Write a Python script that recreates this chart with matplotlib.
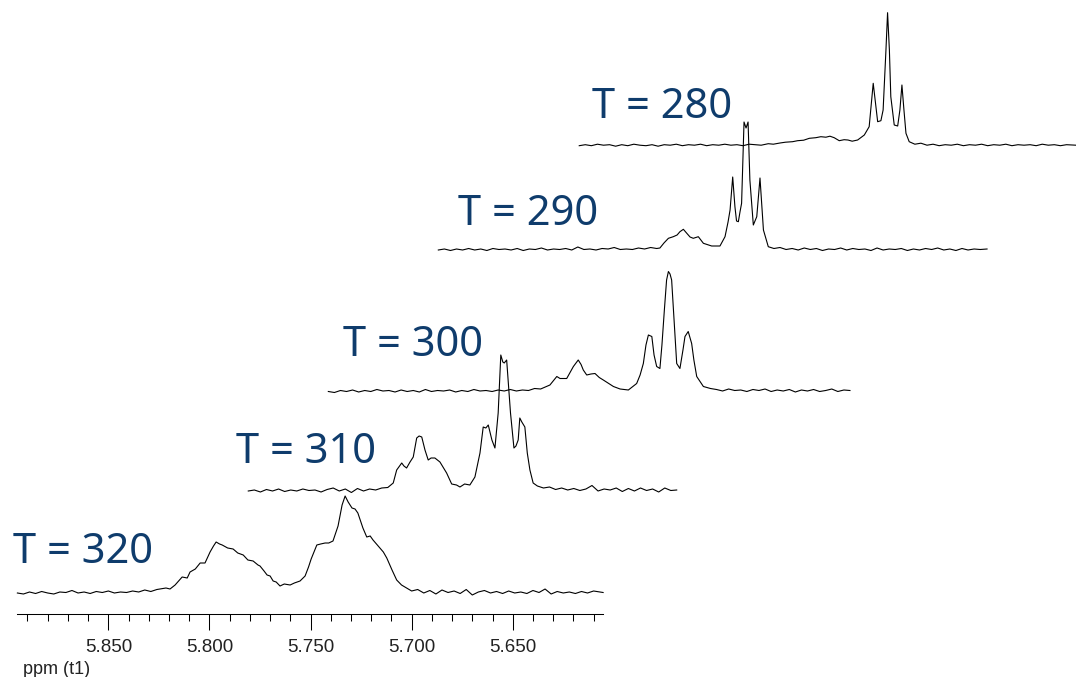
#!/usr/bin/env python3
"""
Stacked 1H NMR spectra at several temperatures (traced from a figure).
"""

import numpy as np
import matplotlib
matplotlib.use("Agg")
import matplotlib.pyplot as plt

# temperatures, bottom to top
temps = [320, 310, 300, 290, 280]

# traced spectra: (ppm, intensity above baseline)
trace_320 = [
    (5.895, 0), (5.892, -1), (5.889, 1), (5.886, -0.5), (5.883, 1.5), (5.880, 0),
    (5.877, -1), (5.874, 1), (5.871, 0.5), (5.868, 2.5), (5.865, 0), (5.862, 1),
    (5.859, -0.5), (5.856, 1.5), (5.853, 0.5), (5.850, 2), (5.847, 0), (5.844, 1),
    (5.841, 0.5), (5.838, 2), (5.835, 1), (5.832, 3), (5.829, 1.5), (5.826, 3.5),
    (5.8215, 5), (5.8195, 4), (5.817, 8), (5.8135, 16), (5.811, 15), (5.8096, 21),
    (5.807, 24), (5.8046, 30), (5.8022, 30), (5.7997, 41), (5.798, 47), (5.7967, 51),
    (5.795, 49), (5.7937, 48), (5.791, 45), (5.7883, 44), (5.786, 40), (5.7833, 38),
    (5.781, 33), (5.7784, 32), (5.776, 28), (5.775, 27), (5.773, 22), (5.7715, 18),
    (5.770, 17), (5.7685, 12), (5.767, 11), (5.7651, 7), (5.763, 9), (5.7601, 8),
    (5.758, 10), (5.7552, 12), (5.7527, 17), (5.751, 26), (5.7497, 34), (5.7469, 48),
    (5.745, 49), (5.7428, 50), (5.741, 50), (5.7389, 52), (5.7364, 67), (5.7344, 88),
    (5.7329, 97), (5.7314, 91), (5.7295, 85), (5.728, 84), (5.7266, 80), (5.7241, 65),
    (5.7222, 56), (5.7205, 57), (5.7191, 53), (5.7157, 45), (5.714, 41), (5.7123, 35),
    (5.7097, 23), (5.7074, 13), (5.705, 8), (5.7025, 5),
    (5.700, 2), (5.697, 3.5), (5.694, 0), (5.691, 2.5), (5.688, -1), (5.685, 3),
    (5.682, 0.5), (5.679, 2), (5.676, -0.5), (5.673, 3.5), (5.670, -2), (5.667, 1),
    (5.664, 2.5), (5.661, 0), (5.658, 1.5), (5.655, -0.5), (5.652, 2), (5.649, 0),
    (5.646, 1), (5.643, -0.5), (5.640, 2.5), (5.637, 0.5), (5.634, 4), (5.631, -1),
    (5.628, 1.5), (5.625, 0), (5.622, 1), (5.619, -0.5), (5.616, 1.5), (5.613, 0),
    (5.610, 2), (5.6053, 0.5),
]

trace_310 = [
    (5.895, 0), (5.892, 1), (5.889, -1), (5.886, 1.5), (5.883, 0), (5.880, 2),
    (5.877, -0.5), (5.874, 1), (5.871, 0), (5.868, 2), (5.865, 0.5), (5.862, 1),
    (5.859, -1), (5.856, 1.5), (5.853, 3), (5.850, 0), (5.847, 2), (5.844, -1.5),
    (5.841, 2.5), (5.838, 0), (5.835, 2), (5.832, 1), (5.829, 3), (5.826, 3.5),
    (5.8233, 8), (5.8216, 21), (5.8191, 28), (5.818, 25), (5.8167, 23), (5.815, 29),
    (5.8134, 34), (5.8117, 53), (5.8105, 55), (5.8092, 54), (5.8076, 41), (5.806, 31),
    (5.8046, 33), (5.8027, 33), (5.8002, 29), (5.799, 25), (5.7969, 18), (5.7944, 7),
    (5.792, 6), (5.7903, 4), (5.788, 7), (5.7854, 6), (5.7829, 14), (5.7804, 38),
    (5.7788, 64), (5.7775, 63), (5.7763, 66), (5.7745, 51), (5.773, 43), (5.7714, 78),
    (5.7701, 136), (5.7691, 129), (5.7684, 128), (5.7672, 131), (5.7653, 78),
    (5.7636, 43), (5.7626, 45), (5.7615, 51), (5.7607, 73), (5.7597, 69), (5.7582, 64),
    (5.757, 38), (5.7557, 21), (5.7541, 8), (5.752, 5),
    (5.749, 3), (5.746, 4), (5.743, 1.5), (5.740, 3), (5.737, 1), (5.734, 2.5),
    (5.731, 0.5), (5.728, 2), (5.725, 5.5), (5.722, 0), (5.719, 2), (5.716, 1),
    (5.713, 3), (5.710, -0.5), (5.707, 2.5), (5.704, 0), (5.701, 3), (5.698, 0.5),
    (5.695, 2), (5.692, -1), (5.689, 3), (5.686, 0.5), (5.6831, 1),
]

trace_300 = [
    (5.895, 0), (5.892, -1), (5.889, 1), (5.886, 0), (5.883, 1.5), (5.880, -0.5),
    (5.877, 1), (5.874, 0), (5.871, 2), (5.868, 0.5), (5.865, 1), (5.862, -0.5),
    (5.859, 1.5), (5.856, 0), (5.853, 1), (5.850, -0.5), (5.847, 2), (5.844, 0),
    (5.841, 1), (5.838, 0.5), (5.835, 1.5), (5.832, -0.5), (5.829, 1), (5.826, 0),
    (5.823, 2), (5.820, 0.5), (5.817, 1), (5.814, 0), (5.811, 1.5), (5.808, 0.5),
    (5.805, 2), (5.802, 0.5), (5.799, 1.5), (5.796, 1), (5.793, 3), (5.790, 2.5),
    (5.7854, 6.5), (5.782, 15), (5.7804, 13), (5.7771, 13), (5.7738, 25), (5.7714, 31.5),
    (5.770, 27), (5.7689, 21.5), (5.7672, 16.5), (5.7651, 17.5), (5.7631, 18),
    (5.761, 14), (5.759, 11.5), (5.754, 5), (5.7507, 2.5), (5.7466, 1.5), (5.7425, 8),
    (5.7408, 16.5), (5.7392, 28), (5.7379, 46.5), (5.7367, 56.5), (5.735, 55),
    (5.7339, 36.5), (5.7326, 25), (5.731, 23), (5.730, 46.5), (5.7288, 81.5),
    (5.7277, 111.5), (5.7268, 120), (5.726, 117.5), (5.7252, 111.5), (5.724, 71.5),
    (5.7227, 28), (5.7211, 23), (5.7196, 41.5), (5.7186, 55), (5.717, 60),
    (5.7153, 48), (5.7142, 31.5), (5.7128, 15), (5.7095, 5), (5.706, 3),
    (5.703, 2), (5.700, 0.5), (5.697, 2.5), (5.694, 1), (5.691, 1.5), (5.688, 0),
    (5.685, 2), (5.682, 1), (5.679, 2.5), (5.676, 0), (5.673, 1.5), (5.670, 0.5),
    (5.667, 2), (5.664, -0.5), (5.661, 1.5), (5.658, 0.5), (5.655, 2), (5.652, 0),
    (5.649, 1), (5.646, 2.5), (5.643, 0), (5.640, 1.5), (5.637, 1),
]

trace_290 = [
    (5.895, 0), (5.892, 1), (5.889, -0.5), (5.886, 1), (5.883, 0), (5.880, 1.5),
    (5.877, 0), (5.874, 1), (5.871, -0.5), (5.868, 1.5), (5.865, 0.5), (5.862, 1),
    (5.859, 0), (5.856, 1.5), (5.853, -0.5), (5.850, 1), (5.847, 0.5), (5.844, 2),
    (5.841, 0), (5.838, 1), (5.835, 0.5), (5.832, 1.5), (5.829, 0), (5.826, 3),
    (5.823, 0.5), (5.820, 1), (5.817, 0), (5.814, 1.5), (5.811, 1), (5.808, 2.5),
    (5.805, 0.5), (5.802, 1), (5.799, 0.5), (5.796, 2), (5.793, 1), (5.790, 2.5),
    (5.787, 1.5),
    (5.7854, 2), (5.7834, 7), (5.7812, 11.7), (5.7788, 13.3), (5.7769, 15),
    (5.7755, 18.3), (5.7738, 20.7), (5.7721, 16.7), (5.7705, 13), (5.7689, 11.7),
    (5.7664, 13.3), (5.7639, 6.7), (5.7598, 4), (5.7557, 4), (5.7532, 13.3),
    (5.7517, 28), (5.7507, 40), (5.7494, 73), (5.7483, 43.3), (5.7475, 29),
    (5.7466, 28.3), (5.7458, 38), (5.745, 46.7), (5.7438, 128), (5.7428, 122),
    (5.7418, 128), (5.7409, 70), (5.7392, 25), (5.7375, 33.3), (5.7359, 72),
    (5.7342, 20), (5.7318, 3.3),
    (5.729, 1.5), (5.726, 2.5), (5.723, 0.5), (5.720, 1.5), (5.717, 0), (5.714, 2),
    (5.711, 0.5), (5.708, 1.5), (5.705, -0.5), (5.702, 1), (5.699, 0.5), (5.696, 2),
    (5.693, 0), (5.690, 1.5), (5.687, 0.5), (5.684, 1), (5.681, -0.5), (5.678, 2),
    (5.675, 0), (5.672, 1), (5.669, 0.5), (5.666, 1.5), (5.663, -0.5), (5.660, 1),
    (5.657, 0), (5.654, 1.5), (5.651, 0.5), (5.648, 2), (5.645, 0), (5.642, 1),
    (5.639, -0.5), (5.636, 1.5), (5.633, 0), (5.630, 1), (5.627, 0.5), (5.6236, 1),
]

trace_280 = [
    (5.895, 0), (5.892, 1), (5.889, 0), (5.886, 1.5), (5.883, 0.5), (5.880, 1),
    (5.877, -0.5), (5.874, 1), (5.871, 0), (5.868, 1.5), (5.865, 0.5), (5.862, 0),
    (5.859, 1), (5.856, -0.5), (5.853, 1), (5.850, 0.5), (5.847, 1.5), (5.844, 0),
    (5.841, 1), (5.838, 0.5), (5.835, 1.5), (5.832, 0), (5.829, 1), (5.826, 0.5),
    (5.823, 1.5), (5.820, 0.5), (5.817, 1), (5.814, 0), (5.811, 1.5), (5.808, 1),
    (5.805, 0.5),
    (5.8015, 2), (5.799, 1.5), (5.7957, 2.7), (5.793, 3.5), (5.7895, 4), (5.787, 5),
    (5.784, 5.5), (5.7812, 7.4), (5.778, 8), (5.7755, 9), (5.773, 8.5), (5.771, 9.5),
    (5.7689, 8), (5.7664, 5), (5.764, 6), (5.7621, 5.7), (5.760, 4.5), (5.7573, 5.7),
    (5.754, 10.7), (5.7516, 19), (5.7496, 62.4), (5.7474, 24), (5.7458, 25),
    (5.7447, 35.7), (5.7433, 95.7), (5.7425, 133), (5.7416, 95.7), (5.7409, 49),
    (5.7392, 20.7), (5.7375, 19.7), (5.7364, 35.7), (5.7354, 60.7), (5.7344, 35.7),
    (5.7334, 12.4), (5.7318, 4),
    (5.729, 1.5), (5.726, 2.5), (5.723, 0.5), (5.720, 1.5), (5.717, 0), (5.714, 1),
    (5.711, 0.5), (5.708, 1.5), (5.705, 0), (5.702, 1), (5.699, 0.5), (5.696, 1.5),
    (5.693, 0), (5.690, 1), (5.687, 0.5), (5.684, 1.5), (5.681, 0), (5.678, 1),
    (5.675, 0.5), (5.672, 1), (5.669, 0), (5.666, 1.5), (5.663, 0.5), (5.660, 1),
    (5.657, 0), (5.654, 1), (5.6493, 0.5),
]

traces = [trace_320, trace_310, trace_300, trace_290, trace_280]

# stacking offsets: horizontal shift (ppm) and vertical offset (intensity units)
x_shift = [0.0, 0.1142, 0.1538, 0.2082, 0.2779]
y_offset = [21.3, 123.3, 222.8, 364.3, 468.6]

# label anchors in pixels (left, baseline)
label_px = [(13, 563), (236, 463), (343, 356.5), (458, 225), (592, 118)]

major_ticks = [5.850, 5.800, 5.750, 5.700, 5.650]
minor_ticks = [5.89, 5.88, 5.87, 5.86, 5.84, 5.83, 5.82, 5.81, 5.79, 5.78, 5.77,
               5.76, 5.74, 5.73, 5.72, 5.71, 5.69, 5.68, 5.67, 5.66, 5.64, 5.63,
               5.62, 5.61]

W, H = 1076, 677
axis_y = 614.3  # pixel row of the ppm axis

fig = plt.figure(figsize=(W / 100, H / 100), dpi=100)
ax = fig.add_axes([0, (H - axis_y) / H, 1, axis_y / H])

for trace, dx, dy in zip(traces, x_shift, y_offset):
    arr = np.array(trace)
    ax.plot(arr[:, 0] - dx, arr[:, 1] + dy, color='black', lw=0.8)

ax.set_xlim(5.9036, 5.3714)
ax.set_ylim(0, axis_y)

for side in ['top', 'left', 'right']:
    ax.spines[side].set_visible(False)
ax.spines['bottom'].set_bounds(5.6053, 5.895)
ax.spines['bottom'].set_linewidth(0.75)

ax.set_yticks([])
ax.set_xticks(major_ticks)
ax.set_xticklabels([f"{t:.3f}" for t in major_ticks])
ax.set_xticks(minor_ticks, minor=True)
ax.tick_params(axis='x', which='major', direction='out', length=11.5, width=0.75,
               pad=6.5, labelsize=13.5, labelcolor='#222222')
ax.tick_params(axis='x', which='minor', direction='out', length=5.3, width=0.75)
for lab in ax.get_xticklabels():
    lab.set_family('Liberation Sans')

fig.text(22.7 / W, 1 - 670 / H, 'ppm (t1)', fontsize=13, family='Liberation Sans',
         color='#222222', va='center', ha='left')

for t, (lx, ly) in zip(temps, label_px):
    fig.text(lx / W, 1 - ly / H, f"T = {t}", fontsize=30, family='Noto Sans',
             color='#0f3c6c', ha='left', va='baseline')

fig.savefig('out.png', dpi=100)
